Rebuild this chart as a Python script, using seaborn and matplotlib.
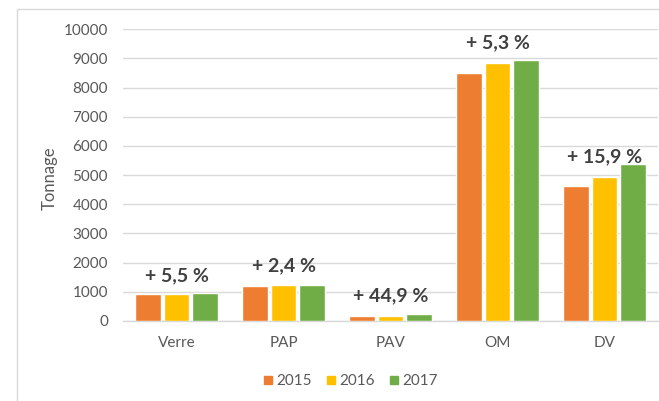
import matplotlib
matplotlib.use("Agg")
import matplotlib.pyplot as plt
from matplotlib.patches import Rectangle
from matplotlib.lines import Line2D
import seaborn as sns
import pandas as pd

# ---- data ----
categories = ["Verre", "PAP", "PAV", "OM", "DV"]
years = ["2015", "2016", "2017"]
values_2015 = [915, 1200, 165, 8500, 4630]
values_2016 = [920, 1230, 175, 8830, 4950]
values_2017 = [965, 1229, 239, 8950, 5370]
growth_labels = ["+ 5,5 %", "+ 2,4 %", "+ 44,9 %", "+ 5,3 %", "+ 15,9 %"]
y_ticks = [0, 1000, 2000, 3000, 4000, 5000, 6000, 7000, 8000, 9000, 10000]

# ---- style ----
colors = ["#ED7D31", "#FFC000", "#70AD47"]
label_offsets_pt = [8.6, 10.0, 8.9, 8.0, 1.2]
text_gray = "#595959"
grid_gray = "#D9D9D9"

sns.set_theme(style="white")
plt.rcParams["font.family"] = ["Lato", "DejaVu Sans"]

rows = []
for yr, vals in zip(years, [values_2015, values_2016, values_2017]):
    for c, v in zip(categories, vals):
        rows.append({"Catégorie": c, "Année": yr, "Tonnage": v})
df = pd.DataFrame(rows)

fig = plt.figure(figsize=(6.59, 4.01), dpi=100)
ax = fig.add_axes([123 / 659, 1 - 321 / 401, 535 / 659, (321 - 29.2) / 401])

sns.barplot(data=df, x="Catégorie", y="Tonnage", hue="Année", order=categories,
            hue_order=years, palette=colors, width=0.8, gap=0.12,
            saturation=1, ax=ax, legend=False, zorder=3)

ax.set_ylim(0, 10000)
ax.set_xlim(-0.5, len(categories) - 0.5)
ax.set_yticks(y_ticks)
ax.set_yticklabels([str(t) for t in y_ticks])
ax.yaxis.grid(True, color=grid_gray, linewidth=1.0, zorder=0)
ax.set_axisbelow(True)
for s in ["left", "right", "top"]:
    ax.spines[s].set_visible(False)
ax.spines["bottom"].set_color(grid_gray)
ax.spines["bottom"].set_linewidth(1.0)
ax.tick_params(axis="y", length=0, pad=10.8, labelsize=11, labelcolor=text_gray)
ax.tick_params(axis="x", length=0, pad=11.0, labelsize=11, labelcolor=text_gray)
ax.set_xlabel("")
ax.set_ylabel("Tonnage", fontsize=12, color=text_gray)
ax.yaxis.set_label_coords(-0.122, 0.49)

group_max = [max(a, b, c) for a, b, c in zip(values_2015, values_2016, values_2017)]
for i, (lab, m, off) in enumerate(zip(growth_labels, group_max, label_offsets_pt)):
    ax.annotate(lab, (i, m), xytext=(0, off), textcoords="offset points",
                ha="center", va="baseline", fontsize=14, fontweight="bold",
                color="#404040", zorder=5)

handles = [Line2D([0], [0], marker="s", linestyle="none", markersize=6,
                  markerfacecolor=c, markeredgecolor=c) for c in colors]
fig.legend(handles, years, loc="center", bbox_to_anchor=(350 / 659, 1 - 381 / 401),
           ncol=3, frameon=False, fontsize=11, handletextpad=0.1,
           columnspacing=0.9, handlelength=0.8, labelcolor=text_gray)

fig.patches.append(Rectangle((16.5 / 659, -0.05), 1.1, 1 - 8.5 / 401 + 0.05,
                             transform=fig.transFigure, fill=False,
                             edgecolor=grid_gray, linewidth=1.0))

fig.savefig("out.png", dpi=100)
